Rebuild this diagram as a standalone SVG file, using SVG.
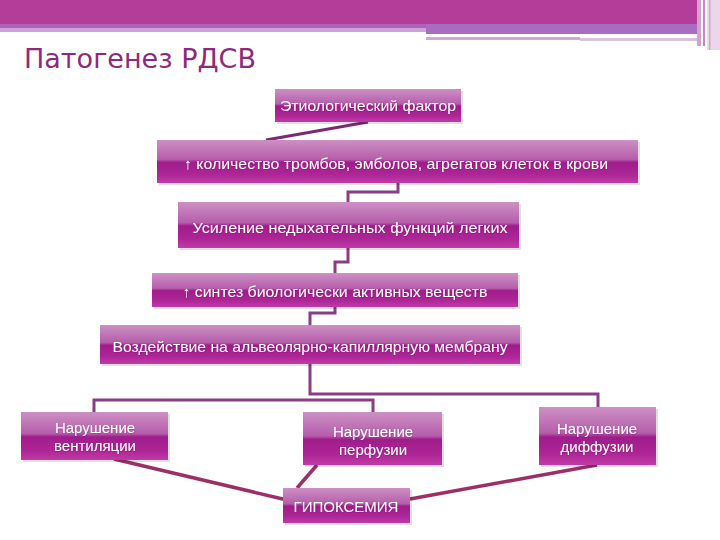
<svg xmlns="http://www.w3.org/2000/svg" width="720" height="540" viewBox="0 0 720 540">
<defs>
<linearGradient id="g" x1="0" y1="0" x2="0" y2="1">
<stop offset="0" stop-color="#cd90c5"/>
<stop offset="0.45" stop-color="#b55eaa"/>
<stop offset="0.52" stop-color="#a01c8b"/>
<stop offset="0.8" stop-color="#ad2596"/>
<stop offset="1" stop-color="#c13ba6"/>
</linearGradient>
<filter id="ts" x="-5%" y="-20%" width="110%" height="140%">
<feDropShadow dx="0.5" dy="0.5" stdDeviation="0.3" flood-color="#4a0a40" flood-opacity="0.35"/>
</filter>
</defs>
<style>
.box{fill:url(#g);}
.sh{fill:#000;opacity:0.12;}
.t{font-family:"Liberation Sans","DejaVu Sans",Arial,sans-serif;font-size:15px;fill:#ffffff;text-anchor:middle;dominant-baseline:central;filter:url(#ts);}
.c{fill:none;stroke:#8a3d82;stroke-width:3;}
.d{fill:none;stroke:#9c2f66;stroke-width:3.5;}
</style>
<rect width="720" height="540" fill="#ffffff"/>
<g id="header">
<rect x="0" y="0" width="700" height="24" fill="#b33d98"/>
<rect x="0" y="24" width="426" height="4" fill="#b062b8"/>
<rect x="0" y="28" width="426" height="4" fill="#cba2da"/>
<rect x="426" y="24" width="274" height="10" fill="#a96cc1"/>
<rect x="426" y="37" width="154" height="3" fill="#d3a6d8"/>
<rect x="580" y="38" width="120" height="3" fill="#d8c4de"/>
<rect x="697" y="0" width="4" height="46" fill="#d7a0cf"/>
<rect x="703" y="0" width="2" height="46" fill="#c388c0"/>
<rect x="707" y="0" width="13" height="50" fill="#ecd6ea"/>
<rect x="709" y="0" width="1.5" height="50" fill="#d0a6cc"/>
</g>
<text id="title" x="24" y="68" font-family="'DejaVu Sans','Liberation Sans',sans-serif" font-size="26" fill="#8e2a7c" textLength="232" lengthAdjust="spacingAndGlyphs">Патогенез РДСВ</text>
<g id="connectors">
<path d="M368 122 L266 140" fill="none" stroke="#7a2a72" stroke-width="3"/>
<path class="c" d="M398 183 V192 H348 V202"/>
<path class="c" d="M348 248 V262 H335 V273"/>
<path class="c" d="M335 307 V313 H310 V325"/>
<path class="c" d="M310 364 V394 H598 V407"/>
<path class="c" d="M94 412 V400 H373 V412"/>
<path class="d" d="M114 459 L287 500"/>
<path class="d" d="M317 465 L297 488"/>
<path class="d" d="M597 465 L410 499"/>
</g>
<g id="n1"><rect class="sh" x="277" y="91" width="186" height="33"/><rect class="box" x="275" y="89" width="186" height="33"/><text class="t" x="368" y="105" textLength="176" lengthAdjust="spacingAndGlyphs">Этиологический фактор</text></g>
<g id="n2"><rect class="sh" x="159" y="142" width="481" height="43"/><rect class="box" x="157" y="140" width="481" height="43"/><text class="t" x="396" y="163" textLength="424" lengthAdjust="spacingAndGlyphs">↑ количество тромбов, эмболов, агрегатов клеток в крови</text></g>
<g id="n3"><rect class="sh" x="180" y="204" width="341" height="46"/><rect class="box" x="178" y="202" width="341" height="46"/><text class="t" x="350" y="227" textLength="315" lengthAdjust="spacingAndGlyphs">Усиление недыхательных функций легких</text></g>
<g id="n4"><rect class="sh" x="154" y="275" width="366" height="34"/><rect class="box" x="152" y="273" width="366" height="34"/><text class="t" x="335" y="291" textLength="305" lengthAdjust="spacingAndGlyphs">↑ синтез биологически активных веществ</text></g>
<g id="n5"><rect class="sh" x="102" y="327" width="420" height="39"/><rect class="box" x="100" y="325" width="420" height="39"/><text class="t" x="310" y="346" textLength="395" lengthAdjust="spacingAndGlyphs">Воздействие на альвеолярно-капиллярную мембрану</text></g>
<g id="n6"><rect class="sh" x="23" y="414" width="147" height="48"/><rect class="box" x="21" y="412" width="147" height="48"/><text class="t" x="95" y="427">Нарушение</text><text class="t" x="95" y="445">вентиляции</text></g>
<g id="n7"><rect class="sh" x="305" y="414" width="139" height="53"/><rect class="box" x="303" y="412" width="139" height="53"/><text class="t" x="373" y="431">Нарушение</text><text class="t" x="373" y="449">перфузии</text></g>
<g id="n8"><rect class="sh" x="541" y="409" width="117" height="58"/><rect class="box" x="539" y="407" width="117" height="58"/><text class="t" x="597" y="428">Нарушение</text><text class="t" x="597" y="446">диффузии</text></g>
<g id="n9"><rect class="sh" x="285" y="490" width="127" height="35"/><rect class="box" x="283" y="488" width="127" height="35"/><text class="t" x="346" y="506">ГИПОКСЕМИЯ</text></g>
</svg>
